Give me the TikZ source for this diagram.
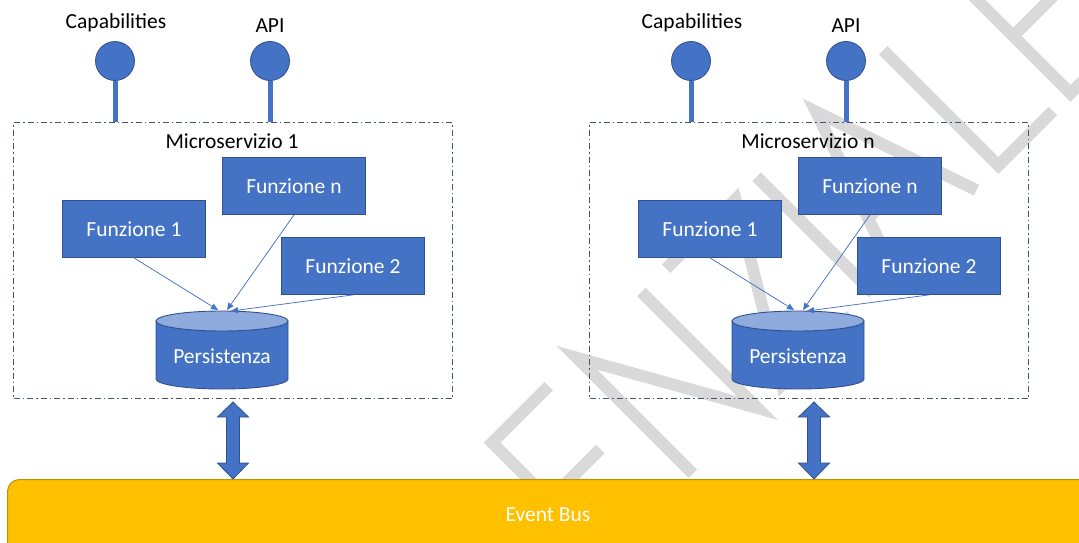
\documentclass[tikz,border=0pt]{standalone}
\usepackage{fontspec}
\setmainfont{Carlito}
\usetikzlibrary{arrows.meta}

\definecolor{accent}{HTML}{4472C4}
\definecolor{accentdark}{HTML}{2F528F}
\definecolor{accentlight}{HTML}{8FAADC}
\definecolor{slate}{HTML}{44546A}
\definecolor{busfill}{HTML}{FFC000}
\definecolor{busline}{HTML}{BF9000}
\definecolor{wmgray}{HTML}{D9D9D9}

\newcommand\diagfont{\fontsize{21.5}{25}\selectfont}

\tikzset{
  fnbox/.style={draw=accentdark, line width=0.9pt, fill=accent, text=white,
    minimum width=143pt, minimum height=57pt},
  port/.style={circle, draw=accentdark, line width=0.8pt, fill=accent, minimum size=39pt},
  stem/.style={draw=accent, line width=5pt},
  svcframe/.style={draw=slate, line width=1.2pt, dash pattern=on 6pt off 3pt on 1.5pt off 3pt},
  flow/.style={draw=accent, line width=0.75pt, -{Triangle[length=7pt,width=6pt]}},
  dbbody/.style={draw=accentdark, line width=0.9pt, fill=accent},
  dbtop/.style={draw=accentdark, line width=0.9pt, fill=accentlight},
  link/.style={draw=accentdark, line width=0.8pt, fill=accent},
  bus/.style={draw=busline, line width=1pt, fill=busfill, rounded corners=12pt},
  wm/.style={draw=wmgray, line width=12pt, line join=miter, miter limit=4},
}

% one microservice: #1 name suffix, #2 horizontal offset, #3 title, #4 x of the bus link
\newcommand\microservice[4]{%
\begin{scope}[xshift=#2pt]
  \node (cap#1) at (116,23) {Capabilities};
  \node (api#1) at (270,26) {API};
  \node[svcframe, anchor=north west, minimum width=439pt, minimum height=276pt] (svc#1) at (13,122) {};
  \node[port] (capport#1) at (115,61) {};
  \node[port] (apiport#1) at (270,61) {};
  \draw[stem] (capport#1.south) -- (capport#1.south |- svc#1.north);
  \draw[stem] (apiport#1.south) -- (apiport#1.south |- svc#1.north);
  \node (title#1) at (232,141) {#3};
  \node[fnbox, anchor=north west] (fn#1) at (222,157) {Funzione n};
  \node[fnbox, anchor=north west] (fa#1) at (62,200) {Funzione 1};
  \node[fnbox, anchor=north west] (fb#1) at (281,237) {Funzione 2};
  % storage cylinder
  \path[dbbody] (156,321) -- (156,379)
    arc[start angle=180, end angle=360, x radius=66pt, y radius=10pt] -- (288,321) -- cycle;
  \path[dbtop] (222,321) ellipse[x radius=66pt, y radius=10pt];
  \node[text=white] (db#1) at (222,356) {Persistenza};
  \coordinate (inA#1) at (218,310);
  \coordinate (inB#1) at (227,310);
  \coordinate (inC#1) at (231,311);
  \draw[flow] (fa#1.south) -- (inA#1);
  \draw[flow] (fn#1.south) -- (inB#1);
  \draw[flow] (fb#1.south) -- (inC#1);
  % two-way link to the bus
  \coordinate (linktop#1) at (#4,402);
  \path[link] (linktop#1) -- ++(15.5,15) -- ++(-9,0) -- ++(0,46) -- ++(9,0) -- ++(-15.5,16)
    -- ++(-15.5,-16) -- ++(9,0) -- ++(0,-46) -- ++(-9,0) -- cycle;
\end{scope}}

\begin{document}
\begin{tikzpicture}[x=1pt, y=-1pt, every node/.style={font=\diagfont, inner sep=0pt}]
\useasboundingbox (0,0) rectangle (1079,543);
\clip (0,0) rectangle (1079,543);

% background lettering, set along the diagonal
\begin{scope}[rotate=45]
  % E
  \draw[wm] (115,661) -- (35,661) -- (35,825) -- (115,825);
  \draw[wm] (35,742) -- (107,742);
  % N
  \draw[wm] (155,825) -- (155,661) -- (247,824) -- (247,660);
  % Z
  \draw[wm] (281,661) -- (379,661) -- (281,825) -- (379,825);
  % I
  \draw[wm] (410,660) -- (410,825);
  % A
  \draw[wm] (440,825) -- (498,656) -- (556,825);
  \draw[wm] (460,768) -- (536,768);
  % L
  \draw[wm] (589,660) -- (589,823) -- (666,823);
  % E
  \draw[wm] (771,661) -- (691,661) -- (691,823) -- (771,823);
  \draw[wm] (691,742) -- (763,742);
\end{scope}

\microservice{L}{0}{Microservizio 1}{233}
\microservice{R}{576}{Microservizio n}{238}

\node[bus, anchor=north west, minimum width=1100pt, minimum height=100pt] (bus) at (7,479) {};
\node[text=white] (buslabel) at (548,515) {Event Bus};
\end{tikzpicture}
\end{document}
